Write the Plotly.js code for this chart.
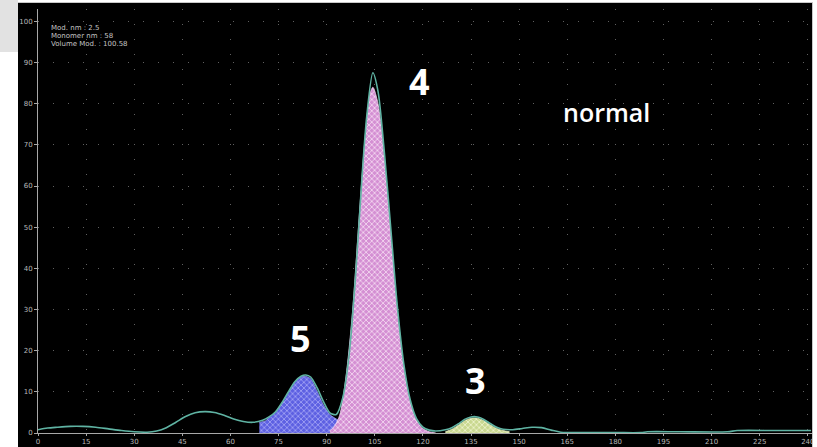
<!DOCTYPE html>
<html>
<head>
<meta charset="utf-8">
<script src="https://cdn.plot.ly/plotly-3.0.1.min.js"></script>
<style>
  html, body { margin: 0; padding: 0; background: #ffffff; width: 817px; height: 447px; overflow: hidden; }
  #corner { position: absolute; left: 0; top: 0; width: 18px; height: 52px; background: #e2e2e2; }
  #frame { position: absolute; left: 18px; top: 2px; width: 794px; height: 445px;
           border-top: 1px solid #c8c8c8; border-right: 1px solid #c8c8c8; overflow: hidden; background: #000; }
  #chart { width: 794px; height: 445px; }
</style>
</head>
<body>
<div id="corner"></div>
<div id="frame"><div id="chart"></div></div>
<script>
// Overall profile (envelope)
const envX = [0, 3, 6, 10, 14, 18, 22, 26, 30, 34, 37, 40, 43, 46, 49, 52, 55, 58, 61, 64, 67, 70, 72, 74, 76, 78, 80, 82, 83.5, 85, 87, 89, 91, 93, 95, 97, 99, 101, 102.5, 104.4, 106, 108, 110, 112, 114, 116, 118, 120, 122, 124, 127, 129, 131, 133, 135, 137, 139, 141, 143, 145, 148, 151, 154, 157, 160, 163, 170, 180, 188, 190, 200, 215, 218, 230, 241];
const envY = [0.8, 1.2, 1.4, 1.6, 1.6, 1.4, 1.0, 0.6, 0.3, 0.2, 0.5, 1.3, 2.6, 4.0, 4.9, 5.2, 5.0, 4.3, 3.4, 2.8, 2.6, 3.1, 3.9, 5.1, 7.3, 9.9, 12.4, 13.8, 14.1, 13.6, 11.0, 7.6, 4.9, 4.5, 8.5, 19, 38, 62, 77, 87.5, 83, 68, 49.5, 31, 17, 8.2, 3.5, 1.4, 0.7, 0.5, 0.8, 1.3, 2.2, 3.3, 3.9, 3.9, 3.3, 2.3, 1.4, 0.9, 0.8, 1.1, 1.4, 1.3, 0.7, 0.2, 0.1, 0.1, 0.1, 0.3, 0.3, 0.3, 0.6, 0.6, 0.6];

// Peak 5
const p5X = [69, 71, 72, 74, 76, 78, 80, 82, 83.2, 85, 87, 89, 91, 93, 95, 97];
const p5Y = [2.6, 3.0, 3.8, 5.0, 7.2, 9.8, 12.3, 13.6, 13.8, 13.2, 10.2, 6.8, 4.5, 3.4, 2.5, 1.5];

// Peak 4
const p4X = [91, 92, 94, 96, 98, 100, 102, 103.5, 104.4, 106, 108, 110, 112, 114, 116, 118, 120, 122, 124];
const p4Y = [0.6, 1.2, 4.2, 13.6, 29, 51, 72, 82.4, 84, 80, 66.6, 48, 30, 16.3, 7.7, 3.1, 1.1, 0.3, 0];

// Peak 3
const p3X = [127, 129, 131, 133, 135, 137, 139, 141, 143, 145, 147];
const p3Y = [0.3, 0.9, 1.9, 3.0, 3.6, 3.6, 3.0, 2.0, 1.1, 0.6, 0.3];

// Axis ticks
const xTicks = [0, 15, 30, 45, 60, 75, 90, 105, 120, 135, 150, 165, 180, 195, 210, 225, 240];
const yTicks = [0, 10, 20, 30, 40, 50, 60, 70, 80, 90, 100];

// Peak labels
const peakLabels = ['4', '5', '3'];
const peakLabelX = [119, 81.7, 136.5];
const peakLabelY = [85.5, 23, 12.8];

// Info lines in the corner
const infoLines = ['Mod. nm : 2.5', 'Monomer nm : 58', 'Volume Mod. : 100.58'];

function peakTrace(x, y, bg, fg, edge) {
  return {
    x: x, y: y, type: 'scatter', mode: 'lines',
    line: { color: edge, width: 0.8, shape: 'spline', smoothing: 0.8 },
    fill: 'tozeroy', fillcolor: bg,
    fillpattern: { shape: 'x', bgcolor: bg, fgcolor: fg, size: 4, solidity: 0.35 },
    hoverinfo: 'skip'
  };
}

const traces = [
  peakTrace(p5X, p5Y, '#5d60e2', '#a9abf6', '#8f93f0'),
  peakTrace(p4X, p4Y, '#d48fd3', '#f8e0f4', '#f0d0f0'),
  peakTrace(p3X, p3Y, '#c9d890', '#f3f7d6', '#e8f0c0'),
  {
    x: envX, y: envY, type: 'scatter', mode: 'lines',
    line: { color: '#5fb3a3', width: 1.6, shape: 'spline', smoothing: 0.8 },
    hoverinfo: 'skip'
  }
];

const annotations = peakLabels.map((t, i) => ({
  x: peakLabelX[i], y: peakLabelY[i], xref: 'x', yref: 'y', text: t, showarrow: false,
  font: { family: 'Open Sans', size: 36, color: '#ffffff', weight: 700 }
}));
annotations.push({
  x: 177.1, y: 78, xref: 'x', yref: 'y', text: 'normal', showarrow: false,
  font: { family: 'Open Sans', size: 25, color: '#ffffff', weight: 600 }
});
infoLines.forEach((t, i) => {
  annotations.push({
    x: 3.5, y: 98.4 - i * 1.95, xref: 'x', yref: 'y', xanchor: 'left', text: t, showarrow: false,
    font: { family: 'DejaVu Sans', size: 7, color: '#c4c4c4' }
  });
});

const gridDash = '1px,14px';
const layout = {
  width: 794, height: 445,
  margin: { l: 20, r: 0, t: 6, b: 15 },
  paper_bgcolor: '#000000', plot_bgcolor: '#000000',
  showlegend: false,
  xaxis: {
    range: [0, 241.3], tickvals: xTicks, ticktext: xTicks.map(String),
    ticklabeloverflow: 'allow',
    showline: true, linecolor: '#a8a8a8', linewidth: 1,
    ticks: 'outside', ticklen: 2, tickcolor: '#a8a8a8',
    tickfont: { family: 'DejaVu Sans', size: 7, color: '#b8b8b8' },
    showgrid: true, gridcolor: '#606060', griddash: gridDash, gridwidth: 1,
    zeroline: false, fixedrange: true
  },
  yaxis: {
    range: [0, 103], tickvals: yTicks, ticktext: yTicks.map(String),
    showline: true, linecolor: '#a8a8a8', linewidth: 1,
    ticks: 'outside', ticklen: 3, tickcolor: '#a8a8a8',
    tickfont: { family: 'DejaVu Sans', size: 7, color: '#b8b8b8' },
    showgrid: true, gridcolor: '#606060', griddash: gridDash, gridwidth: 1,
    zeroline: false, fixedrange: true
  },
  annotations: annotations
};

Plotly.newPlot('chart', traces, layout, { displayModeBar: false, staticPlot: true });
</script>
</body>
</html>
